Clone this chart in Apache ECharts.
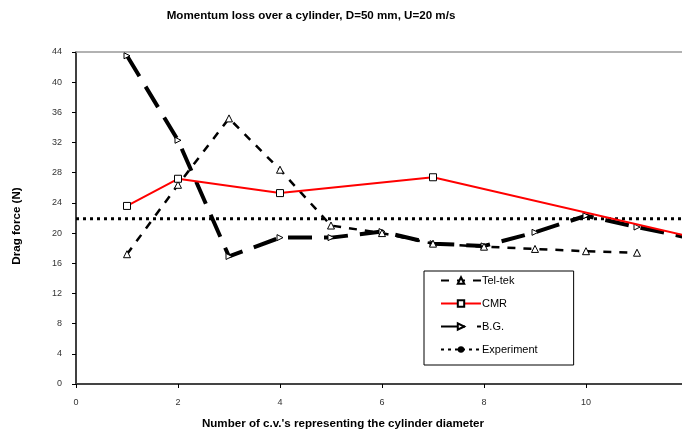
<!DOCTYPE html>
<html>
<head>
<meta charset="utf-8">
<script src="https://cdn.jsdelivr.net/npm/echarts@6/dist/echarts.min.js"></script>
<style>
  html, body { margin: 0; padding: 0; background: #fff; }
  #chart { width: 682px; height: 435px; }
</style>
</head>
<body>
<div id="chart"></div>
<script>
// Drag force (N) against number of control volumes across the cylinder diameter
const telTekX = [1, 2, 3, 4, 5, 6, 7, 8, 9, 10, 11];
const telTekY = [17.2, 26.4, 35.2, 28.4, 21.0, 20.0, 18.6, 18.2, 17.9, 17.6, 17.4];

const cmrX = [1, 2, 4, 7, 12];
const cmrY = [23.6, 27.2, 25.3, 27.4, 19.6];

const bgX = [1, 2, 3, 4, 5, 6, 7, 8, 9, 10, 11, 12];
const bgY = [43.5, 32.3, 16.9, 19.4, 19.4, 20.2, 18.6, 18.3, 20.1, 22.3, 20.8, 19.4];

const experimentX = [0, 12];
const experimentY = [21.9, 21.9];

const xTicks = [0, 2, 4, 6, 8, 10, 12];
const yTicks = [0, 4, 8, 12, 16, 20, 24, 28, 32, 36, 40, 44];

const titleText = 'Momentum loss over a cylinder, D=50 mm, U=20 m/s';
const xTitle = "Number of c.v.'s representing the cylinder diameter";
const yTitle = 'Drag force (N)';

const FONT = "'Liberation Sans', Arial, sans-serif";
const pairs = (xs, ys) => xs.map((x, i) => [x, ys[i]]);

const chart = echarts.init(document.getElementById('chart'));
chart.setOption({
  animation: false,
  backgroundColor: '#ffffff',
  textStyle: { fontFamily: FONT },
  grid: { left: 76, right: -6, top: 52, bottom: 51, containLabel: false, outerBoundsMode: 'none' },
  graphic: [
    { type: 'text', x: 311, y: 16,
      style: { text: titleText, font: 'bold 11.6px ' + FONT, fill: '#000', align: 'center', verticalAlign: 'middle' } },
    { type: 'text', x: 343, y: 424,
      style: { text: xTitle, font: 'bold 11.6px ' + FONT, fill: '#000', align: 'center', verticalAlign: 'middle' } },
    { type: 'text', x: 17, y: 226, rotation: Math.PI / 2,
      style: { text: yTitle, font: 'bold 11.6px ' + FONT, fill: '#000', align: 'center', verticalAlign: 'middle' } }
  ],
  legend: {
    orient: 'vertical',
    left: 424, top: 271,
    padding: [4, 36, 10, 16],
    itemWidth: 40, itemHeight: 8, itemGap: 12,
    borderColor: '#000', borderWidth: 1,
    backgroundColor: '#fff',
    textStyle: { fontFamily: FONT, fontSize: 11, color: '#000', padding: [0, 0, 0, -4] },
    data: ['Tel-tek', 'CMR', 'B.G.', 'Experiment']
  },
  xAxis: [
    {
      type: 'value', min: xTicks[0], max: xTicks[xTicks.length - 1], interval: 2,
      position: 'bottom',
      axisLine: { lineStyle: { color: '#444', width: 2 } },
      axisTick: { show: true, length: 4, lineStyle: { color: '#000', width: 1 } },
      axisLabel: { fontSize: 9, color: '#333', margin: 14, fontFamily: FONT, showMaxLabel: true },
      splitLine: { show: false }
    },
    {
      type: 'value', min: xTicks[0], max: xTicks[xTicks.length - 1], position: 'top',
      axisLine: { show: true, lineStyle: { color: '#999', width: 1.5 } },
      axisTick: { show: false }, axisLabel: { show: false }, splitLine: { show: false }
    }
  ],
  yAxis: {
    type: 'value', min: yTicks[0], max: yTicks[yTicks.length - 1], interval: 4,
    axisLine: { show: true, lineStyle: { color: '#000', width: 1.5 } },
    axisTick: { show: true, length: 4, lineStyle: { color: '#000', width: 1 } },
    axisLabel: { fontSize: 9, color: '#333', margin: 14, fontFamily: FONT },
    splitLine: { show: false }
  },
  series: [
    {
      name: 'Tel-tek', type: 'line', data: pairs(telTekX, telTekY),
      symbol: 'triangle', symbolSize: 7,
      itemStyle: { color: '#fff', borderColor: '#000', borderWidth: 1 },
      lineStyle: { color: '#000', width: 2.5, type: [8, 8] },
      z: 3
    },
    {
      name: 'CMR', type: 'line', data: pairs(cmrX, cmrY),
      symbol: 'rect', symbolSize: 7,
      itemStyle: { color: '#fff', borderColor: '#000', borderWidth: 1 },
      lineStyle: { color: '#ff0000', width: 2 },
      z: 4
    },
    {
      name: 'B.G.', type: 'line', data: pairs(bgX, bgY),
      symbol: 'triangle', symbolSize: 6, symbolRotate: -90,
      itemStyle: { color: '#fff', borderColor: '#000', borderWidth: 1 },
      lineStyle: { color: '#000', width: 4, type: [24, 12] },
      z: 2
    },
    {
      name: 'Experiment', type: 'line', data: pairs(experimentX, experimentY),
      symbol: 'none',
      itemStyle: { color: '#000' },
      lineStyle: { color: '#000', width: 3, type: [3, 4] },
      z: 1
    }
  ]
});
</script>
</body>
</html>
